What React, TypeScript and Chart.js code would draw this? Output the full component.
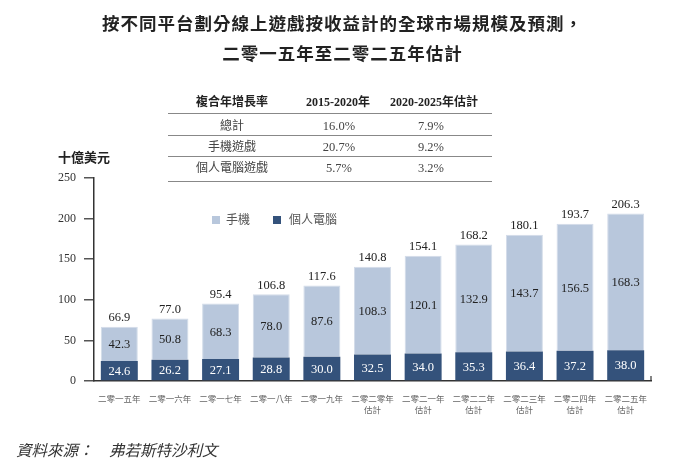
import React, { useEffect, useRef } from "react";
import { Chart, registerables } from "chart.js";

Chart.register(...registerables);

const categories: string[][] = [
  ["二零一五年"],
  ["二零一六年"],
  ["二零一七年"],
  ["二零一八年"],
  ["二零一九年"],
  ["二零二零年", "估計"],
  ["二零二一年", "估計"],
  ["二零二二年", "估計"],
  ["二零二三年", "估計"],
  ["二零二四年", "估計"],
  ["二零二五年", "估計"],
];
const pcValues = [24.6, 26.2, 27.1, 28.8, 30.0, 32.5, 34.0, 35.3, 36.4, 37.2, 38.0];
const mobileValues = [42.3, 50.8, 68.3, 78.0, 87.6, 108.3, 120.1, 132.9, 143.7, 156.5, 168.3];
const totalValues = [66.9, 77.0, 95.4, 106.8, 117.6, 140.8, 154.1, 168.2, 180.1, 193.7, 206.3];

const tableHeader = ["複合年增長率", "2015-2020年", "2020-2025年估計"];
const tableRows = ["總計", "手機遊戲", "個人電腦遊戲"];
const cagr2015 = ["16.0%", "20.7%", "5.7%"];
const cagr2020 = ["7.9%", "9.2%", "3.2%"];

const LIGHT = "#b8c7dc";
const DARK = "#34527b";
const FONT = '"Liberation Serif", "Noto Sans CJK TC", serif';

const labelPlugin = {
  id: "barLabels",
  afterDatasetsDraw(chart: any) {
    const ctx = chart.ctx;
    ctx.save();
    ctx.font = `12.5px ${FONT}`;
    ctx.textAlign = "center";
    ctx.textBaseline = "middle";
    chart.data.datasets.forEach((ds: any, di: number) => {
      const meta = chart.getDatasetMeta(di);
      meta.data.forEach((el: any, i: number) => {
        const p = el.getProps(["x", "y", "base"], true);
        ctx.fillStyle = di === 0 ? "#ffffff" : "#222222";
        ctx.fillText(Number(ds.data[i]).toFixed(1), p.x, (p.y + p.base) / 2 + 1);
      });
    });
    const topMeta = chart.getDatasetMeta(1);
    topMeta.data.forEach((el: any, i: number) => {
      const p = el.getProps(["x", "y"], true);
      ctx.fillStyle = "#222222";
      ctx.fillText(totalValues[i].toFixed(1), p.x, p.y - 9);
    });
    const a = chart.chartArea;
    ctx.strokeStyle = "#333";
    ctx.lineWidth = 1.2;
    ctx.beginPath();
    ctx.moveTo(a.right, a.bottom);
    ctx.lineTo(a.right, a.bottom - 5);
    ctx.stroke();
    ctx.restore();
  },
};

export default function App() {
  const ref = useRef<HTMLCanvasElement>(null);

  useEffect(() => {
    if (!ref.current) return;
    const chart = new Chart(ref.current, {
      type: "bar",
      data: {
        labels: categories,
        datasets: [
          {
            label: "個人電腦",
            data: pcValues,
            backgroundColor: DARK,
            borderWidth: 0,
            barPercentage: 0.73,
            categoryPercentage: 1,
          },
          {
            label: "手機",
            data: mobileValues,
            backgroundColor: LIGHT,
            borderColor: "#d3dce9",
            borderWidth: 1,
            barPercentage: 0.73,
            categoryPercentage: 1,
          },
        ],
      },
      options: {
        responsive: false,
        animation: false,
        devicePixelRatio: 1,
        layout: { padding: { top: 178, right: 34, left: 0, bottom: 0 } },
        plugins: {
          legend: { display: false },
          tooltip: { enabled: false },
          title: { display: false },
        },
        scales: {
          x: {
            stacked: true,
            grid: { display: false },
            border: { display: true, color: "#333", width: 1.5 },
            ticks: {
              color: "#666",
              font: { family: FONT, size: 8.5, lineHeight: 1.3 },
              padding: 5,
              maxRotation: 0,
              autoSkip: false,
            },
            afterFit(scale: any) {
              scale.height = 85;
            },
          },
          y: {
            stacked: true,
            min: 0,
            max: 250,
            grid: {
              display: true,
              drawOnChartArea: false,
              drawTicks: true,
              tickLength: 10,
              color: "#555",
              lineWidth: 1.5,
            },
            border: { display: true, color: "#333", width: 1.5 },
            ticks: {
              stepSize: 50,
              color: "#333",
              font: { family: FONT, size: 12 },
              padding: 8,
            },
            afterFit(scale: any) {
              scale.width = 94;
            },
          },
        },
      },
      plugins: [labelPlugin],
    });
    return () => chart.destroy();
  }, []);

  const abs = (style: React.CSSProperties): React.CSSProperties => ({
    position: "absolute",
    ...style,
  });

  const rowCenters = [126, 147, 168];
  const lines = [113, 135, 156, 181];

  return (
    <div
      style={{
        position: "absolute",
        left: 0,
        top: 0,
        width: 685,
        height: 466,
        background: "#fff",
        fontFamily: FONT,
        overflow: "hidden",
      }}
    >
      <canvas
        ref={ref}
        width={685}
        height={466}
        style={{ position: "absolute", left: 0, top: 0, width: 685, height: 466 }}
      />
      <div
        style={abs({
          left: 0,
          width: 685,
          top: 9,
          textAlign: "center",
          fontWeight: "bold",
          fontSize: 17.5,
          letterSpacing: 1,
          color: "#222",
          lineHeight: "30px",
        })}
      >
        <div>按不同平台劃分線上遊戲按收益計的全球市場規模及預測，</div>
        <div>二零一五年至二零二五年估計</div>
      </div>

      {[232, 338, 434].map((cx, i) => (
        <div
          key={"h" + i}
          style={abs({
            left: cx - 80,
            width: 160,
            top: 93,
            textAlign: "center",
            fontWeight: "bold",
            fontSize: 12,
            color: "#222",
            lineHeight: "18px",
          })}
        >
          {tableHeader[i]}
        </div>
      ))}
      {lines.map((y, i) => (
        <div
          key={"l" + i}
          style={abs({ left: 168, width: 324, top: y, height: 1, background: "#888" })}
        />
      ))}
      {tableRows.map((r, i) => (
        <React.Fragment key={"r" + i}>
          <div
            style={abs({
              left: 232 - 80,
              width: 160,
              top: rowCenters[i] - 9,
              textAlign: "center",
              fontSize: 12,
              color: "#444",
              lineHeight: "18px",
            })}
          >
            {r}
          </div>
          <div
            style={abs({
              left: 339 - 80,
              width: 160,
              top: rowCenters[i] - 9,
              textAlign: "center",
              fontSize: 12.5,
              color: "#444",
              lineHeight: "18px",
            })}
          >
            {cagr2015[i]}
          </div>
          <div
            style={abs({
              left: 431 - 80,
              width: 160,
              top: rowCenters[i] - 9,
              textAlign: "center",
              fontSize: 12.5,
              color: "#444",
              lineHeight: "18px",
            })}
          >
            {cagr2020[i]}
          </div>
        </React.Fragment>
      ))}

      <div
        style={abs({
          left: 58,
          top: 149,
          fontWeight: "bold",
          fontSize: 13,
          color: "#222",
          lineHeight: "18px",
        })}
      >
        十億美元
      </div>

      <div style={abs({ left: 212, top: 216, width: 8, height: 8, background: LIGHT })} />
      <div style={abs({ left: 226, top: 211, fontSize: 12, color: "#555", lineHeight: "18px" })}>
        手機
      </div>
      <div style={abs({ left: 273, top: 216, width: 8, height: 8, background: DARK })} />
      <div style={abs({ left: 289, top: 211, fontSize: 12, color: "#555", lineHeight: "18px" })}>
        個人電腦
      </div>

      <div
        style={abs({
          left: 16,
          top: 441,
          fontSize: 15.5,
          fontStyle: "italic",
          color: "#333",
          lineHeight: "20px",
          whiteSpace: "pre",
        })}
      >
        {"資料來源：　弗若斯特沙利文"}
      </div>
    </div>
  );
}
